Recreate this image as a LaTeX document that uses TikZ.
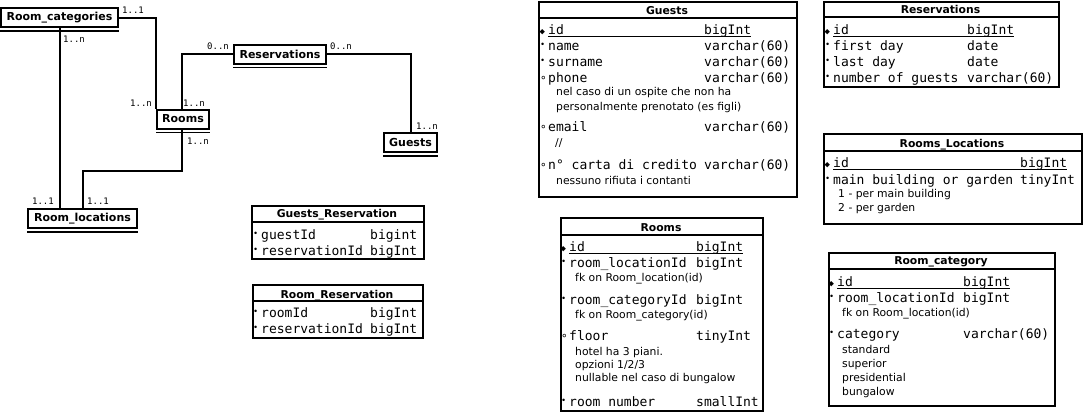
\documentclass[tikz,border=0pt]{standalone}
\usepackage{fontspec}
\setmainfont{DejaVu Sans}
\setmonofont{DejaVu Sans Mono}
\usetikzlibrary{positioning}

\newcommand{\keymark}{\makebox[8pt][l]{\hspace{-0.5pt}\fontsize{9}{9}\selectfont ◆}}
\newcommand{\reqmark}{\makebox[8pt][l]{\raisebox{3pt}{\fontsize{8.5}{8.5}\selectfont •}}}
\newcommand{\optmark}{\makebox[8pt][l]{\raisebox{-2.5pt}{\fontsize{11}{11}\selectfont °}}}

\begin{document}
\begin{tikzpicture}[x=1pt,y=-1pt]
\tikzstyle{every node}=[inner sep=0pt]
\tikzstyle{erbox}=[draw, line width=2pt, minimum height=19pt, font=\fontsize{11}{11}\selectfont\bfseries]
\tikzstyle{mult}=[font=\fontsize{9}{9}\selectfont\ttfamily]
\tikzstyle{rel}=[line width=2pt]
\tikzstyle{tbl}=[draw, line width=2pt, anchor=north west]
\tikzstyle{ttl}=[anchor=base, font=\fontsize{10.8}{10.8}\selectfont\bfseries]
\tikzstyle{fld}=[anchor=base west, font=\fontsize{13}{13}\selectfont\ttfamily]
\tikzstyle{note}=[anchor=base west, font=\fontsize{10.8}{10.8}\selectfont]
\tikzstyle{hline}=[line width=2pt]
\tikzstyle{uline}=[line width=1.2pt]
\useasboundingbox (0,0) rectangle (1083,413);

% entity overview
\node[erbox, minimum width=117pt] (rcat) at (59.5,17.5) {Room\_categories};
\node[erbox, minimum width=92pt] (res) at (280,54) {Reservations};
\node[erbox, minimum width=52pt] (rms) at (183,119) {Rooms};
\node[erbox, minimum width=53pt] (gst) at (410.5,142.5) {Guests};
\node[erbox, minimum width=109pt] (rloc) at (82.5,218.5) {Room\_locations};
\foreach \b in {rcat,res,rms,gst,rloc}
  \draw[line width=1.6pt] ([yshift=-3pt]\b.south west) -- ([yshift=-3pt]\b.south east);

\draw[rel] (rcat.east) -| (rms.north west);
\draw[rel] (res.west) -| ([xshift=-1.5pt]rms.north);
\draw[rel] (res.east) -| (gst.north);
\draw[rel] ([xshift=-1pt]rms.south) -- ++(0,41) -| (rloc.north);
\draw[rel] (rcat.south) -- (rcat.south |- rloc.north);

\node[mult] (m1) at (133,10) {1..1};
\node[mult] (m2) at (141,103) {1..n};
\node[mult] (m3) at (218,46) {0..n};
\node[mult] (m4) at (194,103) {1..n};
\node[mult] (m5) at (341,46) {0..n};
\node[mult] (m6) at (427,126) {1..n};
\node[mult] (m7) at (198,141) {1..n};
\node[mult] (m8) at (98,201) {1..1};
\node[mult] (m9) at (74,39) {1..n};
\node[mult] (m10) at (43,201) {1..1};

% Guests_Reservation
\node[tbl, minimum width=172pt, minimum height=53pt] (greserv) at (251,205) {};
\node[ttl] (greserv-t) at (337,217) {Guests\_Reservation};
\draw[hline] ([yshift=-17pt]greserv.north west) -- ([yshift=-17pt]greserv.north east);
\node[fld] (gr1) at (253,239) {\reqmark guestId};
\node[fld] (gr1t) at (370,239) {bigint};
\node[fld] (gr2) at (253,255) {\reqmark reservationId};
\node[fld] (gr2t) at (370,255) {bigInt};

% Room_Reservation
\node[tbl, minimum width=170pt, minimum height=53pt] (rreserv) at (252,284) {};
\node[ttl] (rreserv-t) at (337,298) {Room\_Reservation};
\draw[hline] ([yshift=-17pt]rreserv.north west) -- ([yshift=-17pt]rreserv.north east);
\node[fld] (rr1) at (253,317) {\reqmark roomId};
\node[fld] (rr1t) at (370,317) {bigInt};
\node[fld] (rr2) at (253,333) {\reqmark reservationId};
\node[fld] (rr2t) at (370,333) {bigInt};

% Guests
\node[tbl, minimum width=258pt, minimum height=195pt] (guests) at (538,1) {};
\node[ttl] (guests-t) at (667,14) {Guests};
\draw[hline] ([yshift=-17pt]guests.north west) -- ([yshift=-17pt]guests.north east);
\node[fld] (g1) at (540,34) {\keymark id};
\node[fld] (g1t) at (704,34) {bigInt};
\draw[uline] ([xshift=8pt,yshift=-2.5pt]g1.base west) -- ([yshift=-2.5pt]g1t.base east);
\node[fld] (g2) at (540,50) {\reqmark name};
\node[fld] (g2t) at (704,50) {varchar(60)};
\node[fld] (g3) at (540,66) {\reqmark surname};
\node[fld] (g3t) at (704,66) {varchar(60)};
\node[fld] (g4) at (540,82) {\optmark phone};
\node[fld] (g4t) at (704,82) {varchar(60)};
\node[note] (g4a) at (556,95) {nel caso di un ospite che non ha};
\node[note] (g4b) at (556,110) {personalmente prenotato (es figli)};
\node[fld] (g5) at (540,131) {\optmark email};
\node[fld] (g5t) at (704,131) {varchar(60)};
\node[note] (g5a) at (555,146) {//};
\node[fld] (g6) at (540,169) {\optmark n° carta di credito};
\node[fld] (g6t) at (704,169) {varchar(60)};
\node[note] (g6a) at (556,184) {nessuno rifiuta i contanti};

% Reservations
\node[tbl, minimum width=235pt, minimum height=85pt] (reserv) at (823,1) {};
\node[ttl] (reserv-t) at (940.5,13) {Reservations};
\draw[hline] ([yshift=-16pt]reserv.north west) -- ([yshift=-16pt]reserv.north east);
\node[fld] (r1) at (825,34) {\keymark id};
\node[fld] (r1t) at (967,34) {bigInt};
\draw[uline] ([xshift=8pt,yshift=-2.5pt]r1.base west) -- ([yshift=-2.5pt]r1t.base east);
\node[fld] (r2) at (825,50) {\reqmark first day};
\node[fld] (r2t) at (967,50) {date};
\node[fld] (r3) at (825,66) {\reqmark last day};
\node[fld] (r3t) at (967,66) {date};
\node[fld] (r4) at (825,82) {\reqmark number of guests};
\node[fld] (r4t) at (967,82) {varchar(60)};

% Rooms_Locations
\node[tbl, minimum width=258pt, minimum height=90pt] (rlocs) at (823,133) {};
\node[ttl] (rlocs-t) at (952,147) {Rooms\_Locations};
\draw[hline] ([yshift=-18pt]rlocs.north west) -- ([yshift=-18pt]rlocs.north east);
\node[fld] (l1) at (825,167) {\keymark id};
\node[fld] (l1t) at (1020,167) {bigInt};
\draw[uline] ([xshift=8pt,yshift=-2.5pt]l1.base west) -- ([yshift=-2.5pt]l1t.base east);
\node[fld] (l2) at (825,184) {\reqmark main building or garden};
\node[fld] (l2t) at (1020,184) {tinyInt};
\node[note] (l2a) at (838,197) {1 - per main building};
\node[note] (l2b) at (838,211) {2 - per garden};

% Rooms
\node[tbl, minimum width=202pt, minimum height=193pt] (rooms) at (560,217) {};
\node[ttl] (rooms-t) at (661,231) {Rooms};
\draw[hline] ([yshift=-18pt]rooms.north west) -- ([yshift=-18pt]rooms.north east);
\node[fld] (o1) at (561,251) {\keymark id};
\node[fld] (o1t) at (696,251) {bigInt};
\draw[uline] ([xshift=8pt,yshift=-2.5pt]o1.base west) -- ([yshift=-2.5pt]o1t.base east);
\node[fld] (o2) at (561,267) {\reqmark room\_locationId};
\node[fld] (o2t) at (696,267) {bigInt};
\node[note] (o2a) at (575,281) {fk on Room\_location(id)};
\node[fld] (o3) at (561,304) {\reqmark room\_categoryId};
\node[fld] (o3t) at (696,304) {bigInt};
\node[note] (o3a) at (575,318) {fk on Room\_category(id)};
\node[fld] (o4) at (561,340) {\optmark floor};
\node[fld] (o4t) at (696,340) {tinyInt};
\node[note] (o4a) at (575,355) {hotel ha 3 piani.};
\node[note] (o4b) at (575,368) {opzioni 1/2/3};
\node[note] (o4c) at (575,381) {nullable nel caso di bungalow};
\node[fld] (o5) at (561,406) {\reqmark room number};
\node[fld] (o5t) at (696,406) {smallInt};

% Room_category
\node[tbl, minimum width=226pt, minimum height=153pt] (rcateg) at (828,252) {};
\node[ttl] (rcateg-t) at (941,264) {Room\_category};
\draw[hline] ([yshift=-17pt]rcateg.north west) -- ([yshift=-17pt]rcateg.north east);
\node[fld] (c1) at (829,286) {\keymark id};
\node[fld] (c1t) at (963,286) {bigInt};
\draw[uline] ([xshift=8pt,yshift=-2.5pt]c1.base west) -- ([yshift=-2.5pt]c1t.base east);
\node[fld] (c2) at (829,302) {\reqmark room\_locationId};
\node[fld] (c2t) at (963,302) {bigInt};
\node[note] (c2a) at (842,316) {fk on Room\_location(id)};
\node[fld] (c3) at (829,338) {\reqmark category};
\node[fld] (c3t) at (963,338) {varchar(60)};
\node[note] (c3a) at (842,353) {standard};
\node[note] (c3b) at (842,367) {superior};
\node[note] (c3c) at (842,381) {presidential};
\node[note] (c3d) at (842,395) {bungalow};
\end{tikzpicture}
\end{document}
